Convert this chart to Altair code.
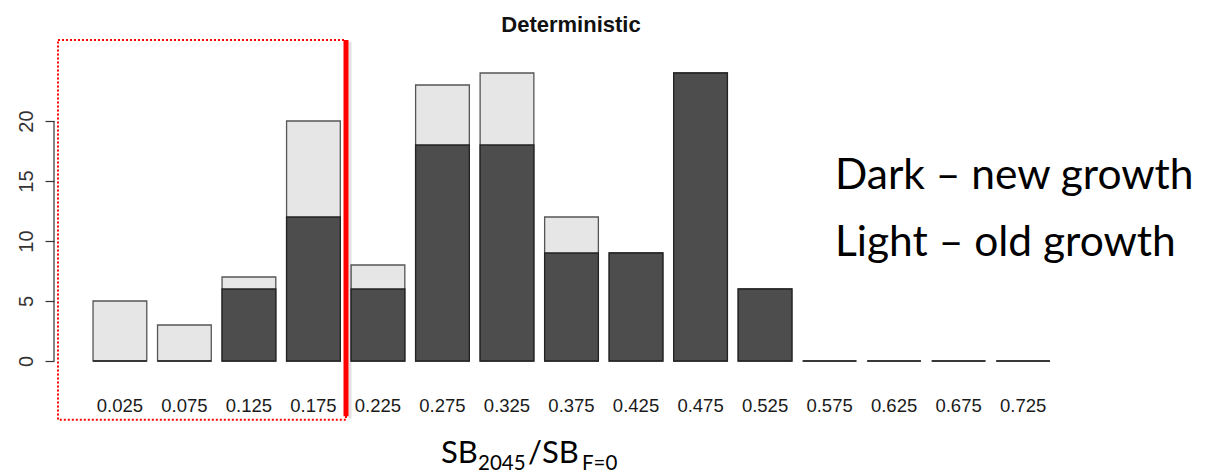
import altair as alt
import pandas as pd

categories = ["0.025", "0.075", "0.125", "0.175", "0.225", "0.275", "0.325", "0.375",
              "0.425", "0.475", "0.525", "0.575", "0.625", "0.675", "0.725"]
new_growth = [0, 0, 6, 12, 6, 18, 18, 9, 9, 24, 6, 0, 0, 0, 0]
total_count = [5, 3, 7, 20, 8, 23, 24, 12, 9, 24, 6, 0, 0, 0, 0]
y_ticks = [0, 5, 10, 15, 20]

df = pd.DataFrame({"bin": categories, "dark": new_growth, "light": total_count})

SANS = "Liberation Sans, Arial, sans-serif"
CAL = "Lato, Carlito, Calibri, sans-serif"

xscale = alt.Scale(domain=categories, paddingInner=0.167, paddingOuter=0.605)
yscale = alt.Scale(domain=[0, 24], nice=False, zero=False)

xaxis = alt.Axis(title=None, domain=False, ticks=False, tickSize=0, labelAngle=0,
                 labelPadding=35, labelFont=SANS, labelFontSize=18.5,
                 labelColor="#1a1a1a", labelBaseline="top")
yaxis = alt.Axis(title=None, values=y_ticks, domain=False, grid=False, tickSize=9,
                 tickColor="#333", tickWidth=1.2, labelAngle=270, labelAlign="center",
                 labelBaseline="bottom", labelPadding=9, labelFont=SANS,
                 labelFontSize=20, labelColor="#333")

base = alt.Chart(df)
light = base.mark_bar(fill="#e6e6e6", stroke="#555", strokeWidth=1.3).encode(
    x=alt.X("bin:N", scale=xscale, axis=xaxis, sort=categories),
    y=alt.Y("light:Q", scale=yscale, axis=yaxis),
)
dark = base.mark_bar(fill="#4d4d4d", stroke="#222", strokeWidth=1.3).encode(
    x=alt.X("bin:N", scale=xscale, axis=xaxis, sort=categories),
    y=alt.Y("dark:Q", scale=yscale, axis=yaxis),
)

one = pd.DataFrame({"a": [0]})
ydomain = alt.Chart(one).mark_rule(color="#333", strokeWidth=1.2).encode(
    x=alt.value(0), y=alt.datum(0), y2=alt.datum(20))

box = alt.Chart(one).mark_rect(fillOpacity=0, stroke="red", strokeDash=[2, 2],
                               strokeWidth=2).encode(
    x=alt.value(4), x2=alt.value(292), y=alt.datum(26.75), y2=alt.datum(-4.9))

shadow = alt.Chart(one).mark_rule(color="#000", opacity=0.12, strokeWidth=3).encode(
    x=alt.value(296), y=alt.datum(26.6), y2=alt.datum(-4.8))
redline = alt.Chart(one).mark_rule(color="red", strokeWidth=5).encode(
    x=alt.value(292), y=alt.datum(26.75), y2=alt.datum(-4.6))

title = alt.Chart(one).mark_text(text="Deterministic", font=SANS, fontWeight="bold",
                                 fontSize=22, align="center", baseline="alphabetic",
                                 color="#111").encode(x=alt.value(517), y=alt.value(-41))

note1 = alt.Chart(one).mark_text(text="Dark – new growth", font=CAL, fontSize=42.5,
                                 align="left", baseline="alphabetic", color="#000").encode(
    x=alt.value(781), y=alt.value(116))
note2 = alt.Chart(one).mark_text(text="Light – old growth", font=CAL, fontSize=42.5,
                                 align="left", baseline="alphabetic", color="#000").encode(
    x=alt.value(781), y=alt.value(183))

def txt(s, x, y, size):
    return alt.Chart(one).mark_text(text=s, font=CAL, fontSize=size, align="left",
                                    baseline="alphabetic", color="#000").encode(
        x=alt.value(x), y=alt.value(y))

xt1 = txt("SB", 387, 390, 31)
xt2 = txt("2045", 424, 397, 20.5)
xt3 = txt("/SB", 474, 390, 31)
xt4 = txt("F=0", 528, 397, 20.5)

chart = alt.layer(light, dark, ydomain, box, shadow, redline, title, note1, note2,
                  xt1, xt2, xt3, xt4).properties(
    width=1035, height=288,
    autosize=alt.AutoSizeParams(type="none"),
    padding={"left": 54, "top": 73, "right": 120, "bottom": 113},
    background="white",
).configure_view(stroke=None)

chart.save("out.html", embed_options={"renderer": "svg", "actions": False})
